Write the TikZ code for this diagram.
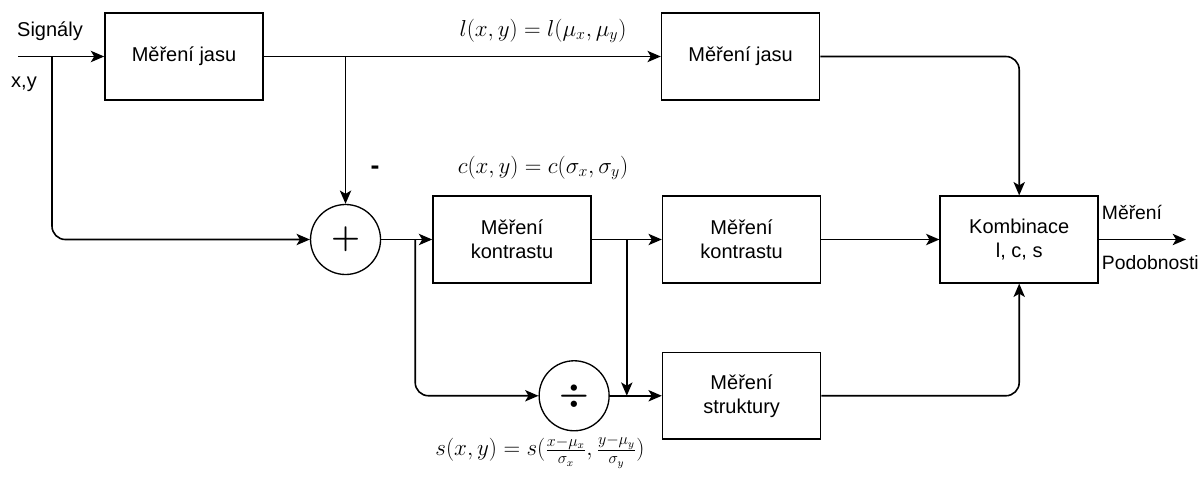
\documentclass[tikz,border=0pt]{standalone}
\usepackage{graphicx}
\usepackage{fontspec}
\setmainfont{Liberation Sans}
\usetikzlibrary{arrows.meta,positioning}
\newcommand{\opSign}[1]{\scalebox{1.0}{\fontsize{24}{24}\selectfont\boldmath$#1$}}

\begin{document}
\begin{tikzpicture}[
    x=0.75pt, y=-0.75pt,
    font=\fontsize{15}{18}\selectfont,
    node distance=40pt and 50pt,
    box/.style={draw, line width=1.2pt, align=center, fill=white,
                minimum width=118.5pt, minimum height=65pt, inner sep=2pt},
    op/.style={draw, circle, line width=1pt, minimum size=52.5pt, inner sep=0pt},
    arr/.style={-{Stealth[length=10pt,width=8.5pt,inset=2.5pt]}, line width=1.2pt},
    formula/.style={font=\fontsize{16.5}{19}\selectfont},
    side/.style={anchor=west, inner sep=0pt, font=\fontsize{14.5}{17}\selectfont}
]
\useasboundingbox (0,0) rectangle (1200,479);

% -- Row 1: luminance
\node[box] (jas1) at (184,56.5) {Měření jasu};
\node[box, right=297.75pt of jas1] (jas2) {Měření jasu};

% -- Row 2: contrast
\node[box] (kon1) at (512,239.5) {Měření\\ kontrastu};
\node[box, right=52.5pt of kon1] (kon2) {Měření\\ kontrastu};
\node[box, right=88.5pt of kon2] (komb) {Kombinace\\ l, c, s};
\node[op, left=38.25pt of kon1] (sum) {};
\node at (sum) {\opSign{+}};

% -- Row 3: structure
\node[box, below=51pt of kon2] (str) {Měření\\ struktury};
\node[op, left=39pt of str] (div) {};
\node at (div) {\opSign{\div}};

% -- free ends and branch points
\coordinate (in) at (18,56.5);
\coordinate (split) at (52,56.5);
\coordinate[right=25.5pt of sum.east] (br2);
\coordinate[right=26.25pt of kon1.east] (br3);
\coordinate[right=65.25pt of komb.east] (out);

% -- labels
\node (sig) at (50,31) {Signály};
\node (xy) at (24,84) {x,y};
\node[font=\fontsize{20}{20}\selectfont\bfseries] (minus) at (375,170) {-};
\node[formula] (lform) at (543,31) {$l(x,y)=l(\mu_x,\mu_y)$};
\node[formula] (cform) at (543,168) {$c(x,y)=c(\sigma_x,\sigma_y)$};
\node[formula] (sform) at (540,452)
  {$s(x,y)=s(\frac{x-\mu_x}{\sigma_x},\frac{y-\mu_y}{\sigma_y})$};
\node[side] (mer) at ([xshift=2pt,yshift=20pt]komb.east) {Měření};
\node[side] (pod) at ([xshift=2pt,yshift=-17pt]komb.east) {Podobnosti};

% -- arrows
\draw[arr] (in) -- (jas1);
\draw[arr, rounded corners=10pt] (split) |- (sum);
\draw[arr] (jas1) -- (jas2);
\draw[arr] (sum |- jas1.east) -- (sum);
\draw[arr, rounded corners=10pt] (jas2) -| (komb);
\draw[arr] (sum) -- (kon1);
\draw[arr, rounded corners=10pt] (br2) |- (div);
\draw[arr] (kon1) -- (kon2);
\draw[arr] (br3) -- (br3 |- str.west);
\draw[arr] (div) -- (str);
\draw[arr] (kon2) -- (komb);
\draw[arr, rounded corners=10pt] (str) -| (komb);
\draw[arr] (komb) -- (out);

\end{tikzpicture}
\end{document}
